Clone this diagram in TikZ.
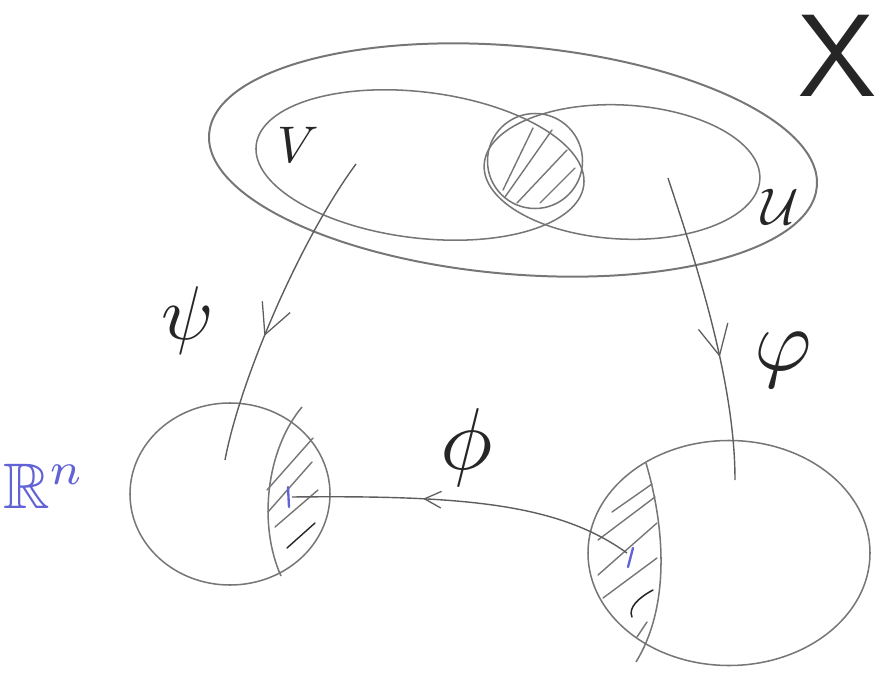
\documentclass[tikz,border=0pt]{standalone}
\usepackage{amsmath,amssymb}
\usepackage{graphicx}
\usepackage{tikz}
\usetikzlibrary{arrows.meta,shapes.geometric,decorations.markings}
\definecolor{pencil}{RGB}{118,118,118}
\definecolor{ink}{RGB}{38,38,38}
\definecolor{blueink}{RGB}{98,98,215}

\begin{document}
\begin{tikzpicture}[
  x=0.03cm, y=-0.03cm,
  set/.style={ellipse,draw=pencil,line width=1.3pt,inner sep=0pt},
  hatch/.style={draw=pencil,line width=1.2pt,line cap=round},
  lab/.style={text=ink,inner sep=0pt},
  midarrow/.style 2 args={draw=pencil!80!black,line width=1.2pt,postaction={decorate},
    decoration={markings,mark=at position #1 with {\arrow{Straight Barb[length=#2,width=#2,line width=1.1pt]}}}},
  blip/.style={draw=blueink,line width=2pt,line cap=round}
]
\useasboundingbox (0,0) rectangle (883,674);
% sets in X
\node[set,line width=1.7pt,minimum width=18.3cm,minimum height=6.84cm,rotate=-5] (xset) at (513,160) {};
\node[set,minimum width=9.9cm,minimum height=4.38cm,rotate=-7] (vset) at (420,165) {};
\node[set,minimum width=8.28cm,minimum height=4.02cm,rotate=-3] (uset) at (622,172) {};
\node[set,minimum width=2.85cm,minimum height=2.85cm] (cap) at (535,161) {};
\foreach \xa/\ya/\xb/\yb in {503/190/533/128, 505/197/552/130, 517/203/567/150, 540/203/575/168}
  \draw[hatch] (\xa,\ya) -- (\xb,\yb);
% balls in R^n
\node[set,minimum width=6cm,minimum height=5.46cm] (lball) at (230,494) {};
\node[set,minimum width=8.46cm,minimum height=6.75cm] (rball) at (729,553) {};
\draw[pencil,line width=1.3pt] (302,407) .. controls (266,450) and (258,525) .. (281,576);
\foreach \xa/\ya/\xb/\yb in {267/490/313/438, 268/512/312/462, 275/527/318/490}
  \draw[hatch] (\xa,\ya) -- (\xb,\yb);
\draw[hatch,ink] (287,548) -- (315,523);
\draw[pencil,line width=1.3pt] (646,463) .. controls (667,535) and (668,610) .. (636,662);
\foreach \xa/\ya/\xb/\yb in {612/512/652/484, 598/540/655/497, 598/575/657/523, 603/598/657/558, 637/637/647/622}
  \draw[hatch] (\xa,\ya) -- (\xb,\yb);
\draw[ink,line width=1.3pt,line cap=round] (653,590) .. controls (638,598) and (628,608) .. (632,617);
% points
\coordinate (vin) at (356,164);
\coordinate (lin) at (225,460);
\coordinate (uin) at (668,178);
\coordinate (rin) at (735,480);
\coordinate (rpt) at (627,553);
\coordinate (lpt) at (292,497);
\draw[blip] (633,548) -- (628,567);
\draw[blip] (288,487) -- (289,507);
% maps
\draw[midarrow={0.6}{9mm}] (vin) .. controls (300,240) and (240,380) .. (lin);
\draw[midarrow={0.6}{9mm}] (uin) .. controls (695,260) and (735,380) .. (rin);
\draw[midarrow={0.62}{5mm}] (rpt) .. controls (560,505) and (470,495) .. (lpt);
% labels
\node[lab] (xlab) at (838,56) {\scalebox{10}{\textsf{X}}};
\node[lab] (vlab) at (298,145) {\scalebox{4.4}{$V$}};
\node[lab] (ulab) at (780,207) {\scalebox{4.4}{$\mathcal{U}$}};
\node[lab] (psilab) at (188,320) {\scalebox{6.5}{$\psi$}};
\node[lab] (varphilab) at (783,360) {\scalebox{7.5}{$\varphi$}};
\node[lab] (philab) at (467,448) {\scalebox{7.5}{$\phi$}};
\node[lab,text=blueink] (rnlab) at (44,486) {\scalebox{5.5}{$\mathbb{R}^n$}};
\end{tikzpicture}
\end{document}
